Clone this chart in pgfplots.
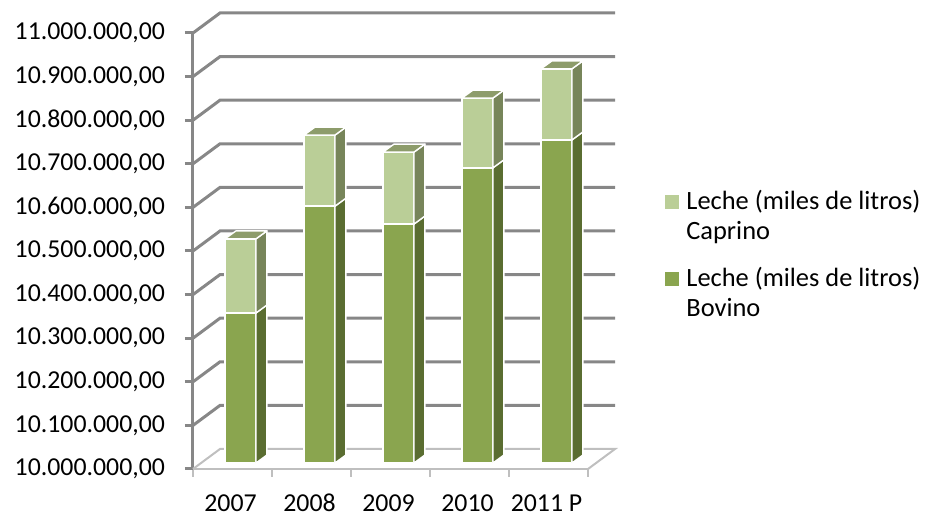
\documentclass[border=0pt]{standalone}
\usepackage{pgfplots}
\pgfplotsset{compat=1.18}
\usepackage{pgfplotstable}
\usepackage{fontspec}
\setmainfont{Carlito}

\definecolor{bovF}{HTML}{8AA54F}
\definecolor{bovS}{HTML}{5A6D31}
\definecolor{capF}{HTML}{BACE97}
\definecolor{capS}{HTML}{77855A}
\definecolor{capT}{HTML}{8D9C6B}
\definecolor{gridc}{HTML}{878787}
\definecolor{floorc}{HTML}{BFBFBF}

% Leche (miles de litros): Bovino, Caprino
\pgfplotstableread{
idx bovino caprino
0 10344000 170000
1 10589000 163000
2 10548000 165000
3 10677000 160000
4 10741000 163000
}\datatable

% geometry of the 3D bars (x in category units, y in data units)
\def\bw{0.392}   % bar width
\def\bs{0.101}   % bar front-face shift
\def\ex{0.139}   % side depth (x)
\def\ey{18350}   % side depth (y)
\def\oy{13760}   % front-face offset in y (depth of bar)

\newcommand\fcalc[2]{\begingroup\pgfkeys{/pgf/fpu=true,/pgf/fpu/output format=fixed}\pgfmathparse{#2}\xdef#1{\pgfmathresult}\endgroup}

\newcommand\drawbar[1]{%
 \pgfplotstablegetelem{#1}{bovino}\of\datatable \let\vB\pgfplotsretval
 \pgfplotstablegetelem{#1}{caprino}\of\datatable \let\vC\pgfplotsretval
 \pgfmathsetmacro\xl{#1+\bs-\bw/2}%
 \pgfmathsetmacro\xr{#1+\bs+\bw/2}%
 \pgfmathsetmacro\xlb{\xl+\ex}%
 \pgfmathsetmacro\xrb{\xr+\ex}%
 \fcalc\ya{10000000+\oy}%
 \fcalc\yab{10000000+\oy+\ey}%
 \fcalc\yb{\vB+\oy}%
 \fcalc\ybb{\vB+\oy+\ey}%
 \fcalc\yc{\vB+\vC+\oy}%
 \fcalc\ycb{\vB+\vC+\oy+\ey}%
 \edef\tmp{%
  \noexpand\addplot[barface,fill=bovF] coordinates {(\xl,\ya) (\xr,\ya) (\xr,\yb) (\xl,\yb)} --cycle;
  \noexpand\addplot[barface,fill=bovS] coordinates {(\xr,\ya) (\xrb,\yab) (\xrb,\ybb) (\xr,\yb)} --cycle;
  \noexpand\addplot[barface,fill=capF] coordinates {(\xl,\yb) (\xr,\yb) (\xr,\yc) (\xl,\yc)} --cycle;
  \noexpand\addplot[barface,fill=capS] coordinates {(\xr,\yb) (\xrb,\ybb) (\xrb,\ycb) (\xr,\yc)} --cycle;
  \noexpand\addplot[barface,fill=capT] coordinates {(\xl,\yc) (\xr,\yc) (\xrb,\ycb) (\xlb,\ycb)} --cycle;
 }\tmp}

\begin{document}
\begin{tikzpicture}
\path[use as bounding box] (-96.5pt,-24pt) rectangle (366pt,234.5pt);
\begin{axis}[
  at={(0,0)}, anchor=south west,
  scale only axis, width=197.5pt, height=218pt,
  xmin=-0.5, xmax=4.5, ymin=10000000, ymax=11000000,
  clip=false,
  axis x line*=bottom, axis y line*=left,
  x axis line style={floorc, line width=1pt, -},
  y axis line style={gridc, line width=1.5pt, -},
  tick align=outside,
  xtick={-0.5,0.5,1.5,2.5,3.5,4.5},
  x tick label as interval,
  xticklabels={2007,2008,2009,2010,2011 P},
  x tick style={floorc, line width=1pt},
  ytick distance=100000,
  y tick style={gridc, line width=1.5pt},
  major tick length=4pt,
  scaled y ticks=false,
  yticklabel style={/pgf/number format/.cd, fixed, fixed zerofill, precision=2, 1000 sep={.}, dec sep={,}, assume math mode=true, /tikz/.cd, xshift=-6.5pt},
  xticklabel style={/pgf/number format/assume math mode=true, text height=9pt, text depth=0pt, yshift=-4.5pt, xshift=-1pt},
  tick label style={font=\fontsize{12.9pt}{15pt}\selectfont, text=black},
  barface/.style={draw=white, line width=0.7pt, line join=round, forget plot},
  legend image code/.code={\fill[#1, draw=none] (0pt,4pt) rectangle (7pt,11pt);},
  legend style={at={(1.195,0.64)}, anchor=north west, draw=none, fill=none,
    inner sep=0pt, row sep=12.5pt, font=\fontsize{13.2pt}{15pt}\selectfont,
    nodes={inner sep=0pt, align=left},
    /tikz/every odd column/.append style={column sep=3.5pt}},
  legend cell align=left,
]
% back wall gridlines and left wall diagonals
\pgfplotsinvokeforeach{10100000,10200000,10300000,10400000,10500000,10600000,10700000,10800000,10900000,11000000}{
  \draw[gridc, line width=1.5pt] (axis cs:-0.5,#1) -- ++(13.5pt,10pt) -- ++(197.5pt,0pt);
}
% floor
\draw[floorc, line width=1pt] (axis cs:-0.5,10000000) -- ++(13.5pt,10pt) -- ++(197.5pt,0pt) -- ++(-13.5pt,-10pt);
\drawbar{0}
\drawbar{1}
\drawbar{2}
\drawbar{3}
\drawbar{4}
\addlegendimage{fill=capF, draw=none}
\addlegendentry{Leche (miles de litros)\\Caprino}
\addlegendimage{fill=bovF, draw=none}
\addlegendentry{Leche (miles de litros)\\Bovino}
\end{axis}
\end{tikzpicture}
\end{document}
